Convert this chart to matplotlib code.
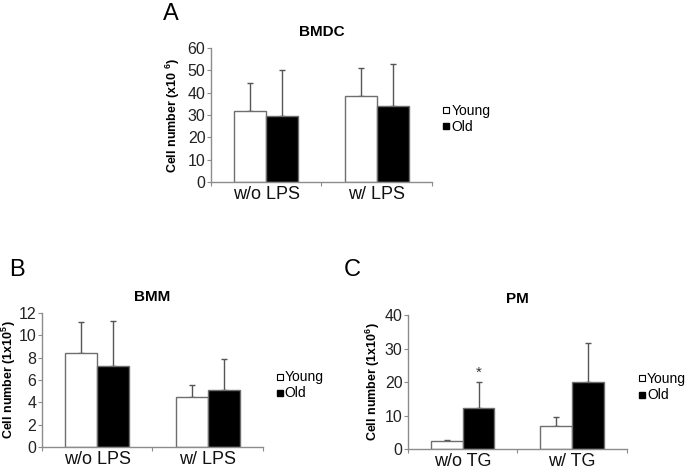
import matplotlib
matplotlib.use("Agg")
import matplotlib.pyplot as plt
from matplotlib.lines import Line2D

plt.rcParams['font.family'] = ['Liberation Sans', 'DejaVu Sans']
plt.rcParams['mathtext.default'] = 'regular'

series = ["Young", "Old"]

# Panel A: BMDC
a_cats = ["w/o LPS", "w/ LPS"]
a_young = [31.8, 38.5]
a_young_top = [44.5, 51.0]
a_old = [29.5, 34.0]
a_old_top = [50.2, 53.0]

# Panel B: BMM
b_cats = ["w/o LPS", "w/ LPS"]
b_young = [8.4, 4.5]
b_young_top = [11.2, 5.6]
b_old = [7.3, 5.1]
b_old_top = [11.3, 7.9]

# Panel C: PM
c_cats = ["w/o TG", "w/ TG"]
c_young = [2.5, 6.8]
c_young_top = [2.7, 9.7]
c_old = [12.2, 20.0]
c_old_top = [20.0, 31.8]

GRAY = "#8c8c8c"
EDGE = "#6e6e6e"


def panel(ax, cats, young, ytop, old, otop, ymax, ystep, title, ylabel, ylx, lx, ly):
    n = len(cats)
    centers = [0.5 + i for i in range(n)]
    w = 0.29
    xy = [c - w / 2 for c in centers]
    xo = [c + w / 2 for c in centers]
    ax.bar(xy, young, width=w, color="white", edgecolor=EDGE, linewidth=1.0, zorder=2)
    ax.bar(xo, old, width=w, color="black", edgecolor=EDGE, linewidth=1.0, zorder=2)
    ax.errorbar(xy, young, yerr=[[0] * n, [t - v for t, v in zip(ytop, young)]],
                fmt="none", ecolor="#555555", elinewidth=1.0, capsize=2.5, capthick=1.0, zorder=1)
    ax.errorbar(xo, old, yerr=[[0] * n, [t - v for t, v in zip(otop, old)]],
                fmt="none", ecolor="#555555", elinewidth=1.0, capsize=2.5, capthick=1.0, zorder=1)
    ax.set_xlim(0, n)
    ax.set_ylim(0, ymax)
    ax.set_yticks([ystep * k for k in range(int(ymax / ystep) + 1)])
    ax.set_xticks(list(range(n + 1)))
    ax.set_xticklabels([""] * (n + 1))
    ax.set_xticks(centers, minor=True)
    ax.set_xticklabels(cats, minor=True, fontsize=13, color="#111111")
    ax.tick_params(axis="x", which="major", length=3, color=GRAY, direction="out")
    ax.tick_params(axis="x", which="minor", length=0, pad=3)
    ax.tick_params(axis="y", length=3, color=GRAY, labelsize=11.5, labelcolor="#222222", pad=1)
    for s in ["top", "right"]:
        ax.spines[s].set_visible(False)
    for s in ["left", "bottom"]:
        ax.spines[s].set_color(GRAY)
        ax.spines[s].set_linewidth(1.0)
    ax.set_title(title, fontsize=11, fontweight="bold", pad=9)
    ax.set_ylabel(ylabel, fontsize=9, fontweight="bold")
    ax.yaxis.set_label_coords(ylx, 0.5)
    handles = [Line2D([], [], marker="s", linestyle="none", markersize=4.5,
                      markerfacecolor="white", markeredgecolor="black", markeredgewidth=0.8),
               Line2D([], [], marker="s", linestyle="none", markersize=4.5,
                      markerfacecolor="black", markeredgecolor="black")]
    ax.legend(handles, series, loc="center left", bbox_to_anchor=(lx, ly), frameon=False,
              fontsize=10, handlelength=0.5, handletextpad=0.1, labelspacing=0.15,
              borderaxespad=0, borderpad=0)
    return centers, xo


fig = plt.figure(figsize=(6.88, 4.75), dpi=100)

axA = fig.add_axes([0.3067, 0.6168, 0.321, 0.282])
panel(axA, a_cats, a_young, a_young_top, a_old, a_old_top, 60, 10, "BMDC",
      "Cell number (x10 $^{6}$)", -0.13, 1.05, 0.47)

axB = fig.add_axes([0.061, 0.0589, 0.321, 0.282])
panel(axB, b_cats, b_young, b_young_top, b_old, b_old_top, 12, 2, "BMM",
      "Cell number (1x10$^{5}$)", -0.11, 1.06, 0.46)

axC = fig.add_axes([0.593, 0.0547, 0.318, 0.282])
centers, xo = panel(axC, c_cats, c_young, c_young_top, c_old, c_old_top, 40, 10, "PM",
                    "Cell number (1x10$^{6}$)", -0.119, 1.055, 0.46)
axC.text(xo[0], c_old_top[0] + 0.6, "*", ha="center", va="bottom", fontsize=11, color="#333333")

fig.text(163 / 688, 1 - 14 / 475, "A", fontsize=17, ha="left", va="center")
fig.text(9 / 688, 1 - 270 / 475, "B", fontsize=17, ha="left", va="center")
fig.text(344 / 688, 1 - 270 / 475, "C", fontsize=17, ha="left", va="center")

fig.savefig("out.png", dpi=100)
